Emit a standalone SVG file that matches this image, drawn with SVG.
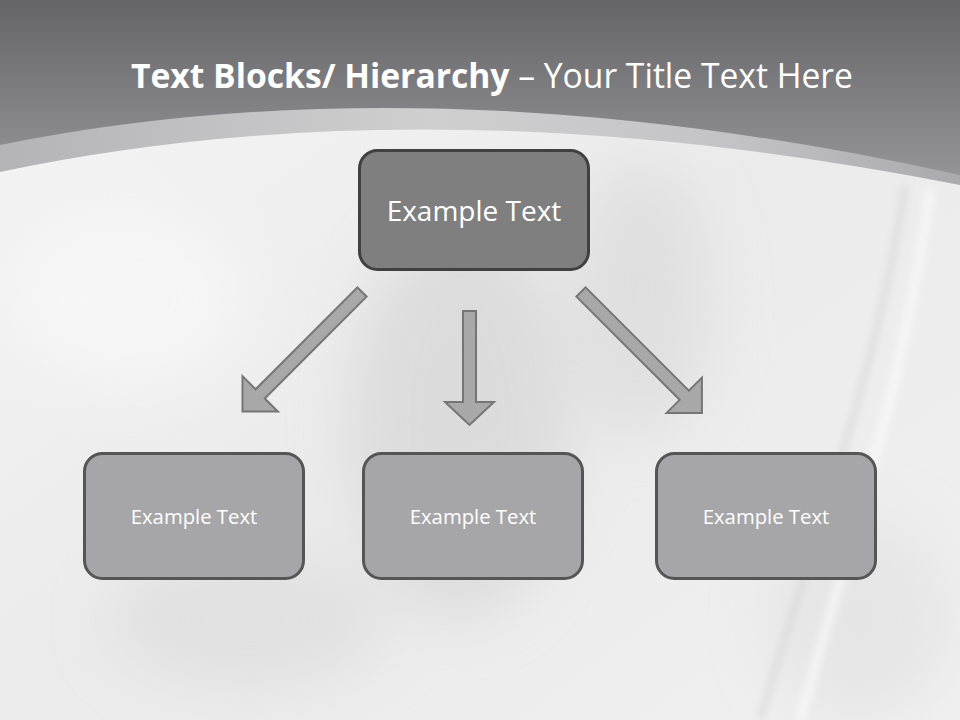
<svg xmlns="http://www.w3.org/2000/svg" width="960" height="720" viewBox="0 0 960 720">
  <defs>
    <style>
      .title { font-family: "Open Sans", "Liberation Sans", sans-serif; font-size: 34px; fill: #ffffff; }
      .big { font-family: "Open Sans", "Liberation Sans", sans-serif; font-size: 28px; fill: #ffffff; text-anchor: middle; }
      .small { font-family: "Open Sans", "Liberation Sans", sans-serif; font-size: 20.3px; fill: #ffffff; text-anchor: middle; }
      .topbox { fill: #7f7f7f; stroke: #404040; stroke-width: 3; }
      .box { fill: #a6a6a8; stroke: #555555; stroke-width: 3; }
      .arrow { fill: #a8a8a8; stroke: #757575; stroke-width: 2; stroke-linejoin: miter; }
    </style>
    <linearGradient id="hdr" x1="0" y1="0" x2="0" y2="1">
      <stop offset="0" stop-color="#656568"/>
      <stop offset="1" stop-color="#949498"/>
    </linearGradient>
    <linearGradient id="band" x1="0" y1="0" x2="1" y2="0">
      <stop offset="0" stop-color="#b4b4b6"/>
      <stop offset="0.45" stop-color="#cfcfd0"/>
      <stop offset="0.75" stop-color="#c4c4c6"/>
      <stop offset="1" stop-color="#aaaaac"/>
    </linearGradient>
    <linearGradient id="bg" x1="0" y1="0" x2="1" y2="1">
      <stop offset="0" stop-color="#f5f5f5"/>
      <stop offset="0.5" stop-color="#ebebeb"/>
      <stop offset="1" stop-color="#f0f0f0"/>
    </linearGradient>
    <filter id="blur" x="-50%" y="-50%" width="200%" height="200%">
      <feGaussianBlur stdDeviation="30"/>
    </filter>
    <filter id="blur2" x="-50%" y="-50%" width="200%" height="200%">
      <feGaussianBlur stdDeviation="4"/>
    </filter>
  </defs>

  <!-- background -->
  <rect x="0" y="0" width="960" height="720" fill="url(#bg)"/>
  <g filter="url(#blur)" opacity="0.6">
    <ellipse cx="460" cy="420" rx="110" ry="200" fill="#d2d2d2"/>
    <ellipse cx="250" cy="620" rx="140" ry="70" fill="#dadada"/>
    <ellipse cx="640" cy="300" rx="70" ry="140" fill="#d8d8d8"/>
    <ellipse cx="130" cy="300" rx="120" ry="90" fill="#fafafa"/>
    <ellipse cx="860" cy="620" rx="90" ry="100" fill="#e0e0e0"/>
  </g>
  <path d="M905,185 C880,360 820,520 760,720" fill="none" stroke="#cacaca" stroke-width="3" filter="url(#blur2)"/>
  <path d="M930,190 C905,380 850,540 800,720" fill="none" stroke="#fbfbfb" stroke-width="6" filter="url(#blur2)"/>

  <!-- header -->
  <path d="M0,0 H960 V185 Q430,81 0,172 Z" fill="url(#band)"/>
  <path d="M0,0 H960 V175 Q430,58 0,145 Z" fill="url(#hdr)"/>

  <text class="title" x="131" y="88" textLength="722" lengthAdjust="spacingAndGlyphs"><tspan font-weight="bold">Text Blocks/ Hierarchy</tspan> – Your Title Text Here</text>

  <!-- connectors -->
  <g id="connectors">
    <polygon class="arrow" transform="translate(362,292) rotate(135)" points="0,-6.5 144,-6.5 144,-25 169,0 144,25 144,6.5 0,6.5"/>
    <polygon class="arrow" transform="translate(469.5,311) rotate(90)" points="0,-6.5 91,-6.5 91,-24.5 114,0 91,24.5 91,6.5 0,6.5"/>
    <polygon class="arrow" transform="translate(581,292) rotate(45)" points="0,-6.5 146,-6.5 146,-25 171,0 146,25 146,6.5 0,6.5"/>
  </g>

  <!-- nodes -->
  <g id="node-top">
    <rect class="topbox" x="359.5" y="150.5" width="229" height="119" rx="18"/>
    <text class="big" x="474" y="221">Example Text</text>
  </g>
  <g id="node-left">
    <rect class="box" x="84.5" y="453.5" width="219" height="125" rx="18"/>
    <text class="small" x="194" y="524">Example Text</text>
  </g>
  <g id="node-center">
    <rect class="box" x="363.5" y="453.5" width="219" height="125" rx="18"/>
    <text class="small" x="473" y="524">Example Text</text>
  </g>
  <g id="node-right">
    <rect class="box" x="656.5" y="453.5" width="219" height="125" rx="18"/>
    <text class="small" x="766" y="524">Example Text</text>
  </g>
</svg>
